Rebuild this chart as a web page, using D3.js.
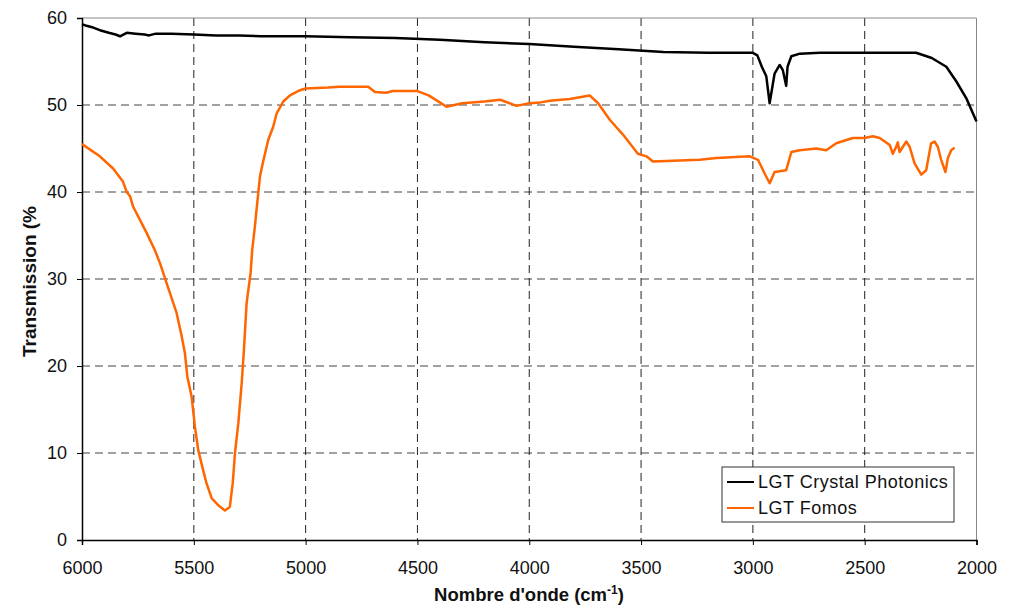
<!DOCTYPE html>
<html><head><meta charset="utf-8">
<script src="https://cdn.jsdelivr.net/npm/d3@7"></script>
<style>body{margin:0;background:#fff;} text{font-family:Arial,"Liberation Sans",sans-serif;}</style>
</head><body><svg id="c" width="1015" height="608"></svg>
<script>
const xTicks = [6000,5500,5000,4500,4000,3500,3000,2500,2000];
const yTicks = [0,10,20,30,40,50,60];
const seriesNames = ["LGT Crystal Photonics","LGT Fomos"];
const seriesColors = ["#000000","#FF6600"];
const crystalWn = [6000,5980,5950,5920,5880,5850,5830,5800,5760,5720,5700,5670,5600,5500,5400,5300,5200,5000,4800,4600,4400,4200,4000,3800,3600,3400,3200,3000,2980,2960,2940,2925,2918,2903,2880,2866,2851,2845,2828,2790,2700,2500,2300,2270,2200,2135,2090,2046,2000];
const crystalT = [59.3,59.1,58.9,58.6,58.3,58.1,57.9,58.3,58.2,58.1,58.0,58.2,58.2,58.1,58.0,58.0,57.9,57.9,57.8,57.7,57.5,57.2,57.0,56.7,56.4,56.1,56.0,56.0,55.7,54.4,53.3,50.2,51.3,53.6,54.6,54.0,52.2,54.4,55.6,55.9,56.0,56.0,56.0,56.0,55.4,54.4,52.7,50.8,48.1];
const fomosWn = [6000,5920,5861,5817,5800,5785,5771,5741,5711,5674,5651,5629,5607,5577,5554,5540,5529,5510,5495,5480,5458,5443,5420,5391,5361,5339,5326,5316,5301,5286,5276,5264,5246,5239,5227,5219,5204,5190,5178,5167,5145,5130,5100,5070,5025,5000,4900,4850,4720,4690,4640,4610,4500,4450,4400,4370,4300,4200,4130,4057,4000,3950,3908,3819,3730,3692,3640,3581,3514,3476,3447,3238,3163,3014,2977,2947,2925,2903,2851,2828,2791,2716,2672,2627,2553,2501,2463,2433,2388,2374,2359,2352,2344,2329,2314,2299,2277,2247,2225,2203,2188,2173,2158,2139,2128,2113,2098];
const fomosT = [45.5,44.1,42.7,41.2,40.0,39.5,38.3,36.8,35.3,33.3,31.8,30.1,28.4,26.1,23.4,21.5,18.8,16.5,13.0,10.3,8.0,6.5,4.8,4.0,3.4,3.8,6.5,10.0,13.4,18.0,21.8,27.2,30.7,33.3,36.0,38.1,41.8,43.5,44.8,46.0,47.5,49.0,50.4,51.1,51.7,51.9,52.0,52.1,52.1,51.5,51.4,51.6,51.6,51.1,50.3,49.8,50.2,50.4,50.6,49.9,50.2,50.3,50.5,50.7,51.1,50.2,48.3,46.6,44.4,44.1,43.5,43.7,43.9,44.1,43.7,42.1,41.0,42.3,42.5,44.6,44.8,45.0,44.8,45.6,46.2,46.2,46.4,46.2,45.4,44.4,45.2,45.7,44.6,45.2,45.8,45.2,43.3,42.0,42.5,45.6,45.8,45.2,43.7,42.3,43.9,44.8,45.1];

const L=82, R=976.5, T=18, B=540;
const svg = d3.select("#c");
const x = d3.scaleLinear().domain([6000,2000]).range([L,R]);
const y = d3.scaleLinear().domain([0,60]).range([B,T]);

// grid
svg.append("g").selectAll("line").data(yTicks.filter(v=>v>0&&v<60)).join("line")
  .attr("x1",L).attr("x2",R).attr("y1",d=>y(d)).attr("y2",d=>y(d))
  .attr("stroke","#444").attr("stroke-width",1).attr("stroke-dasharray","8,5");
svg.append("g").selectAll("line").data(xTicks.filter(v=>v<6000&&v>2000)).join("line")
  .attr("y1",T).attr("y2",B).attr("x1",d=>x(d)).attr("x2",d=>x(d))
  .attr("stroke","#222").attr("stroke-width",1).attr("stroke-dasharray","8,5");

// frame top/right grey
svg.append("path").attr("d",`M${L},${T}H${R}V${B}`).attr("fill","none").attr("stroke","#888").attr("stroke-width",1);

// axes
const xAxis = svg.append("g").attr("transform",`translate(0,${B})`)
  .call(d3.axisBottom(x).tickValues(xTicks).tickSize(5).tickPadding(16).tickFormat(d3.format("d")));
const yAxis = svg.append("g").attr("transform",`translate(${L},0)`)
  .call(d3.axisLeft(y).tickValues(yTicks).tickSize(5).tickPadding(10).tickFormat(d3.format("d")));
[xAxis,yAxis].forEach(a=>{
  a.select(".domain").attr("stroke","#000").attr("stroke-width",1.5);
  a.selectAll(".tick line").attr("stroke","#000");
  a.selectAll("text").attr("font-size",18).attr("fill","#111").attr("font-family","Arial, 'Liberation Sans', sans-serif");
});

// lines
const line = d3.line().x(d=>x(d[0])).y(d=>y(d[1]));
const crystal = crystalWn.map((w,i)=>[w,crystalT[i]]);
const fomos = fomosWn.map((w,i)=>[w,fomosT[i]]);
svg.append("path").datum(fomos).attr("d",line).attr("fill","none").attr("stroke",seriesColors[1]).attr("stroke-width",2.5).attr("stroke-linejoin","round");
svg.append("path").datum(crystal).attr("d",line).attr("fill","none").attr("stroke",seriesColors[0]).attr("stroke-width",2.5).attr("stroke-linejoin","round");

// axis titles
const xt = svg.append("text").attr("x",529).attr("y",601).attr("text-anchor","middle")
  .attr("font-size",18.5).attr("font-weight","bold").attr("fill","#111");
xt.append("tspan").text("Nombre d'onde (cm");
xt.append("tspan").attr("dy",-7).attr("font-size",12).text("-1");
xt.append("tspan").attr("dy",7).text(")");
svg.append("text").attr("transform","translate(36,357) rotate(-90)").attr("text-anchor","start")
  .attr("font-size",19).attr("font-weight","bold").attr("fill","#111").text("Transmission (%");

// legend
const lg = svg.append("g");
lg.append("rect").attr("x",722).attr("y",467).attr("width",232).attr("height",55)
  .attr("fill","#fff").attr("stroke","#333").attr("stroke-width",1);
seriesNames.forEach((n,i)=>{
  const yy = 482 + i*26;
  lg.append("line").attr("x1",727).attr("x2",754).attr("y1",yy).attr("y2",yy)
    .attr("stroke",seriesColors[i]).attr("stroke-width",2);
  lg.append("text").attr("x",758).attr("y",yy+6).attr("font-size",18).attr("letter-spacing",0.5).attr("fill","#111").text(n);
});
</script></body></html>
